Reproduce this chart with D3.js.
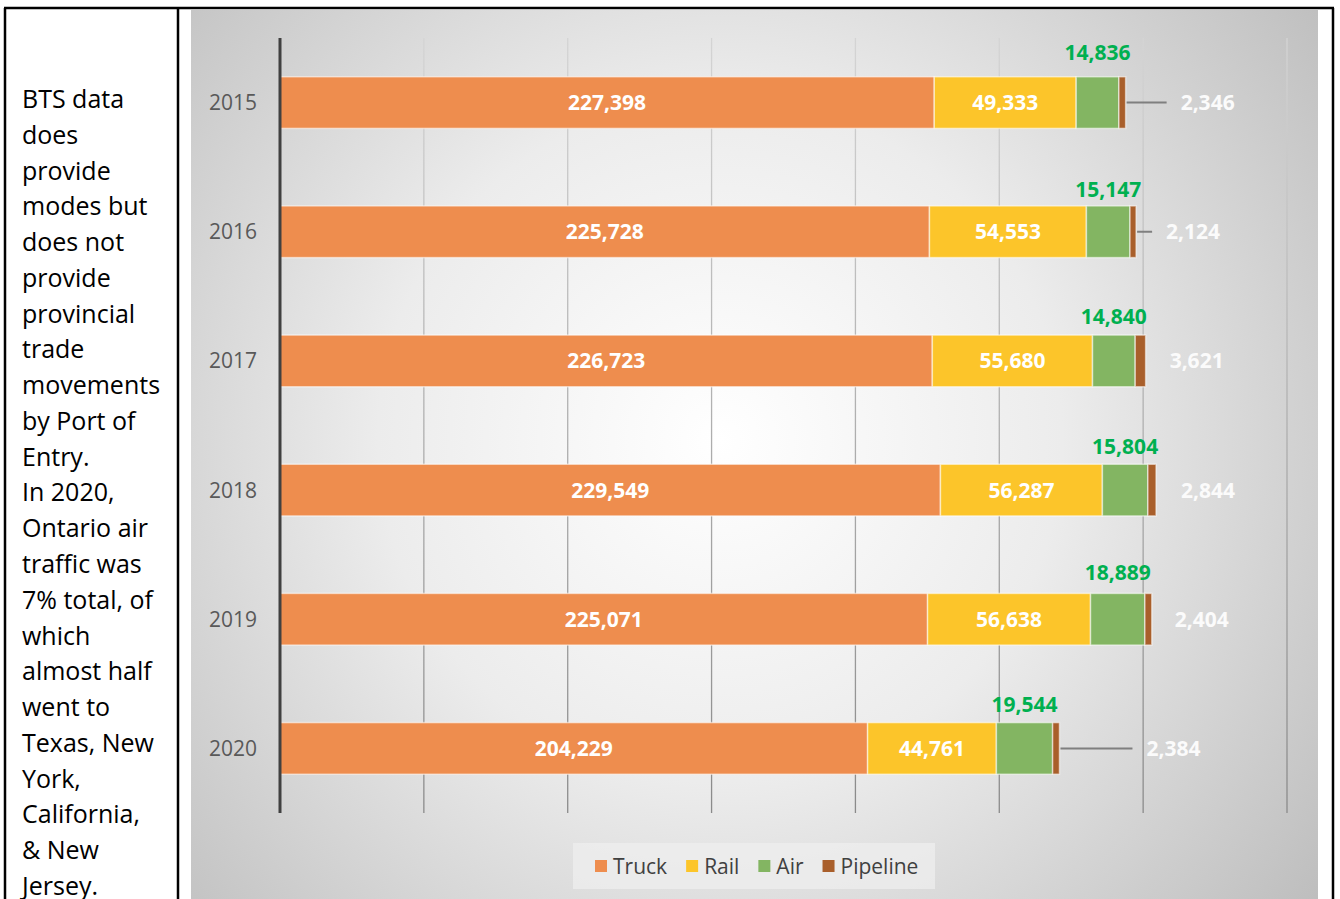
<!DOCTYPE html>
<html>
<head>
<meta charset="utf-8">
<script src="https://cdn.jsdelivr.net/npm/d3@7"></script>
<style>
  body { margin: 0; background: #fff; }
  svg { display: block; }
</style>
</head>
<body>
<div class="chart"></div>
<script>
// Ontario - US trade by mode, 2015-2020 (stacked bars)

var years = ["2015", "2016", "2017", "2018", "2019", "2020"];
var modes = ["Truck", "Rail", "Air", "Pipeline"];
var truck = [227398, 225728, 226723, 229549, 225071, 204229];
var rail = [49333, 54553, 55680, 56287, 56638, 44761];
var air = [14836, 15147, 14840, 15804, 18889, 19544];
var pipeline = [2346, 2124, 3621, 2844, 2404, 2384];
var xTicks = [50000, 100000, 150000, 200000, 250000, 300000, 350000];

var noteLines = ["BTS data", "does", "provide", "modes but", "does not", "provide",
  "provincial", "trade", "movements", "by Port of", "Entry.", "In 2020,",
  "Ontario air", "traffic was", "7% total, of", "which", "almost half",
  "went to", "Texas, New", "York,", "California,", "& New", "Jersey."];

var colors = { Truck: "#ee8d4e", Rail: "#fcc52a", Air: "#83b562", Pipeline: "#a95f2b" };

var svgWidth = 1340;
var svgHeight = 899;

var svg = d3.select(".chart")
  .append("svg")
  .attr("width", svgWidth)
  .attr("height", svgHeight)
  .style("font-family", "'Open Sans', sans-serif");

var defs = svg.append("defs");

// chart area background
var bg = defs.append("radialGradient")
  .attr("id", "bg")
  .attr("gradientUnits", "userSpaceOnUse")
  .attr("cx", 720).attr("cy", 440).attr("r", 760);
bg.append("stop").attr("offset", "0%").attr("stop-color", "#ffffff");
bg.append("stop").attr("offset", "45%").attr("stop-color", "#ececec");
bg.append("stop").attr("offset", "100%").attr("stop-color", "#bdbdbd");

// gridlines fade from light (top) to dark (bottom)
var gg = defs.append("linearGradient")
  .attr("id", "grid")
  .attr("gradientUnits", "userSpaceOnUse")
  .attr("x1", 0).attr("y1", 38).attr("x2", 0).attr("y2", 813);
gg.append("stop").attr("offset", "0%").attr("stop-color", "#d4d4d4");
gg.append("stop").attr("offset", "100%").attr("stop-color", "#8a8a8a");

svg.append("rect")
  .attr("x", 191).attr("y", 10)
  .attr("width", 1127).attr("height", 889)
  .attr("fill", "url(#bg)");

// table borders
var borders = svg.append("g").attr("stroke", "#000").attr("stroke-width", 2.5);
borders.append("line").attr("x1", 4).attr("x2", 1334).attr("y1", 8).attr("y2", 8);
borders.append("line").attr("x1", 5).attr("x2", 5).attr("y1", 8).attr("y2", 899);
borders.append("line").attr("x1", 178).attr("x2", 178).attr("y1", 8).attr("y2", 899);
borders.append("line").attr("x1", 1333).attr("x2", 1333).attr("y1", 8).attr("y2", 899);

// note text in left cell
svg.append("g")
  .selectAll("text")
  .data(noteLines)
  .enter().append("text")
    .attr("x", 22)
    .attr("y", function(d, i) { return 99 + i * 35.77; })
    .attr("dy", "0.36em")
    .attr("font-size", 25)
    .attr("fill", "#000")
    .text(function(d) { return d; });

// scales
var xScale = d3.scaleLinear().domain([0, 350000]).range([280, 1287]);
var yScale = d3.scaleBand().domain(years).range([38, 813])
  .paddingInner(0.6).paddingOuter(0.3);

var rows = years.map(function(y, i) {
  return { year: y, Truck: truck[i], Rail: rail[i], Air: air[i], Pipeline: pipeline[i] };
});
var series = d3.stack().keys(modes)(rows);

// gridlines
svg.append("g")
  .selectAll("line")
  .data(xTicks)
  .enter().append("line")
    .attr("x1", function(d) { return xScale(d); })
    .attr("x2", function(d) { return xScale(d); })
    .attr("y1", 38).attr("y2", 813)
    .attr("stroke", "url(#grid)")
    .attr("stroke-width", 1.3);

// bars
var chart = svg.append("g");
chart.selectAll("g.series")
  .data(series)
  .enter().append("g")
    .attr("class", "series")
    .attr("fill", function(d) { return colors[d.key]; })
  .selectAll("rect")
  .data(function(d) { return d; })
  .enter().append("rect")
    .attr("x", function(d) { return xScale(d[0]); })
    .attr("y", function(d) { return yScale(d.data.year); })
    .attr("width", function(d) { return xScale(d[1]) - xScale(d[0]); })
    .attr("height", yScale.bandwidth())
    .attr("stroke", "rgba(255,255,255,0.55)")
    .attr("stroke-width", 1.5);

// y axis line + year labels
svg.append("line")
  .attr("x1", 280).attr("x2", 280).attr("y1", 38).attr("y2", 813)
  .attr("stroke", "#404040").attr("stroke-width", 3);

svg.append("g")
  .selectAll("text")
  .data(years)
  .enter().append("text")
    .attr("x", 257)
    .attr("y", function(d) { return yScale(d) + yScale.bandwidth() / 2; })
    .attr("dy", "0.36em")
    .attr("text-anchor", "end")
    .attr("font-size", 21)
    .attr("fill", "#595959")
    .text(function(d) { return d; });

var fmt = d3.format(",");
var mid = function(d) { return yScale(d.data.year) + yScale.bandwidth() / 2; };

// truck + rail labels inside
[series[0], series[1]].forEach(function(s) {
  chart.append("g").selectAll("text")
    .data(s)
    .enter().append("text")
      .attr("x", function(d) { return (xScale(d[0]) + xScale(d[1])) / 2; })
      .attr("y", mid)
      .attr("dy", "0.36em")
      .attr("text-anchor", "middle")
      .attr("font-size", 21)
      .attr("font-weight", "bold")
      .attr("fill", "#fff")
      .text(function(d) { return fmt(d[1] - d[0]); });
});

// air labels above the segment (hand placed in the original)
var airShift = [24, 16, 19, 18, 21, 18];
chart.append("g").selectAll("text")
  .data(series[2])
  .enter().append("text")
    .attr("x", function(d) { return (xScale(d[0]) + xScale(d[1])) / 2; })
    .attr("y", function(d, i) { return yScale(d.data.year) - airShift[i]; })
    .attr("dy", "0.36em")
    .attr("text-anchor", "middle")
    .attr("font-size", 21)
    .attr("font-weight", "bold")
    .attr("fill", "#00b050")
    .text(function(d) { return fmt(d[1] - d[0]); });

// pipeline labels pushed out to the right, some with leader lines
var pipeShift = [55, 30, 24, 25, 23, 87];
var pipe = chart.append("g");
series[3].forEach(function(d, i) {
  var end = xScale(d[1]);
  var lx = end + pipeShift[i];
  if (pipeShift[i] > 28) {
    pipe.append("line")
      .attr("x1", end + 1).attr("x2", lx - 14)
      .attr("y1", mid(d)).attr("y2", mid(d))
      .attr("stroke", "#7f7f7f").attr("stroke-width", 2);
  }
  pipe.append("text")
    .attr("x", lx)
    .attr("y", mid(d))
    .attr("dy", "0.36em")
    .attr("font-size", 21)
    .attr("font-weight", "bold")
    .attr("fill", "#fbfbfb")
    .text(fmt(d[1] - d[0]));
});

// legend
var legend = svg.append("g");
legend.append("rect")
  .attr("x", 573).attr("y", 843).attr("width", 362).attr("height", 46)
  .attr("fill", "#f0f0f0").attr("opacity", 0.7);

var lx = 595;
modes.forEach(function(m) {
  legend.append("rect")
    .attr("x", lx).attr("y", 860).attr("width", 12).attr("height", 12)
    .attr("fill", colors[m]);
  var t = legend.append("text")
    .attr("x", lx + 18).attr("y", 866)
    .attr("dy", "0.36em")
    .attr("font-size", 21)
    .attr("fill", "#404040")
    .text(m);
  lx = lx + 18 + t.node().getComputedTextLength() + 19;
});
</script>
</body>
</html>
